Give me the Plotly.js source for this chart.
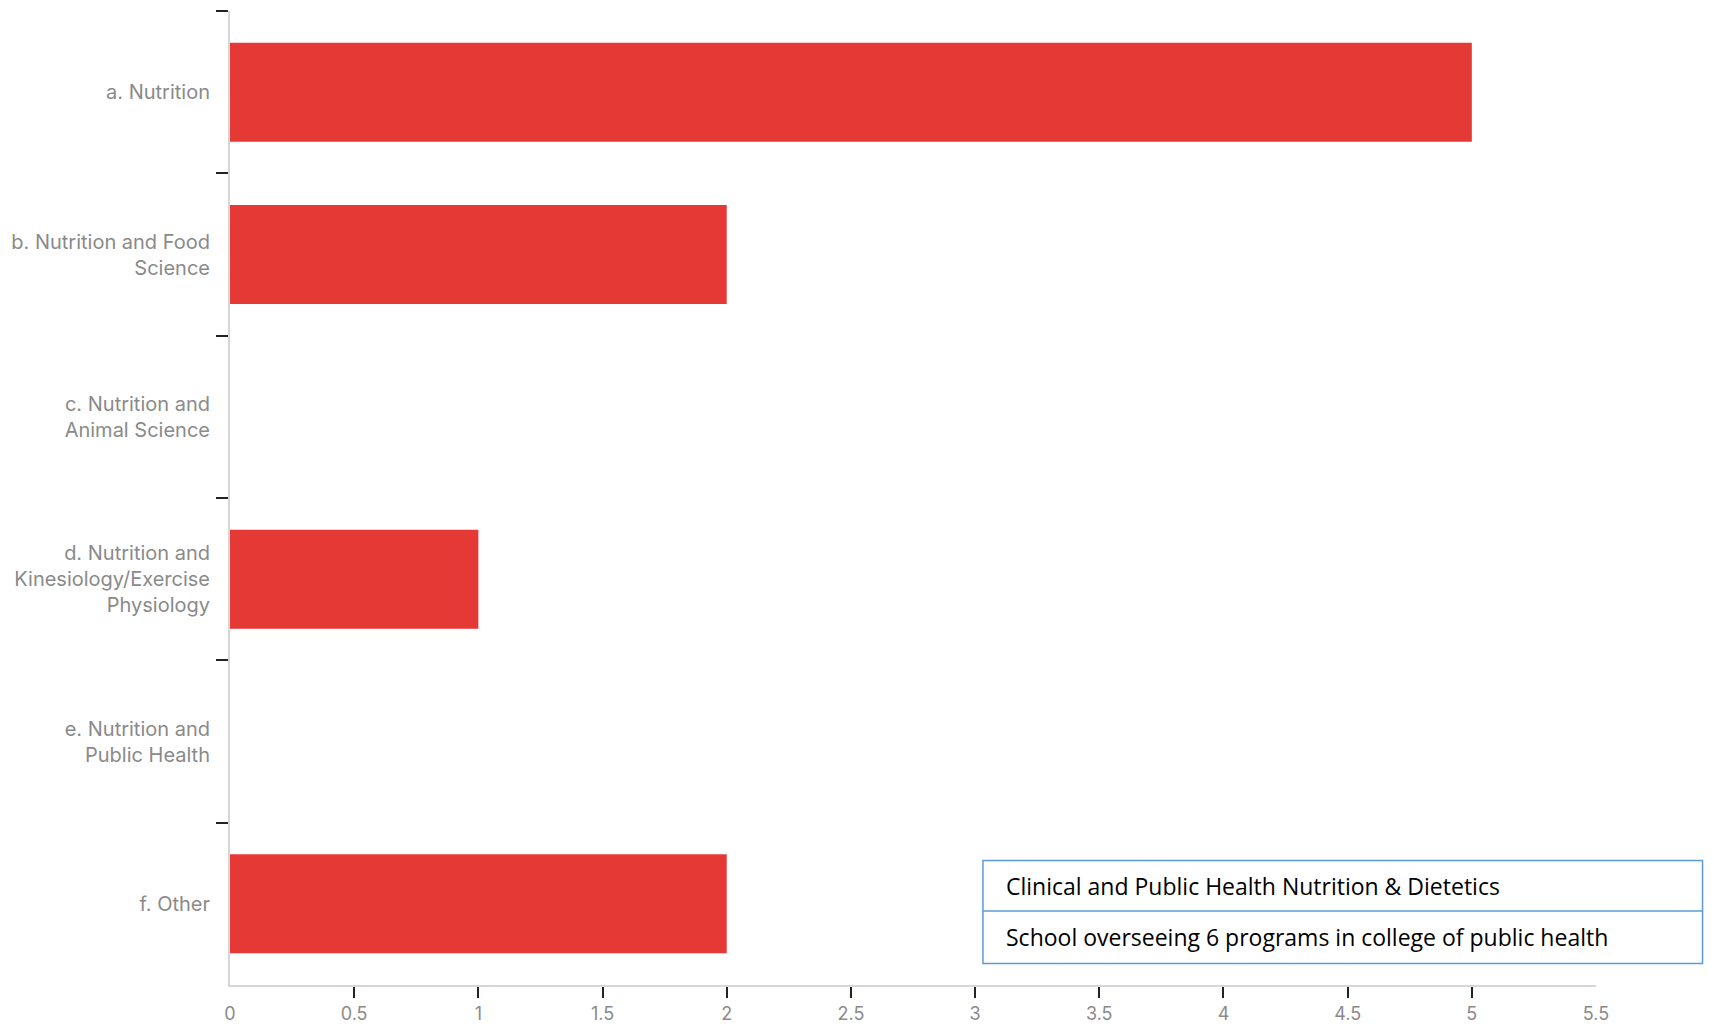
<!DOCTYPE html>
<html>
<head>
<meta charset="utf-8">
<script src="https://cdn.plot.ly/plotly-3.0.1.min.js"></script>
<style>html,body{margin:0;padding:0;background:#fff;}#chart{width:1714px;height:1026px;}</style>
</head>
<body>
<div id="chart"></div>
<script>
const categories = [
  'a. Nutrition',
  'b. Nutrition and Food<br>Science',
  'c. Nutrition and<br>Animal Science',
  'd. Nutrition and<br>Kinesiology/Exercise<br>Physiology',
  'e. Nutrition and<br>Public Health',
  'f. Other'
];
const counts = [5, 2, 0, 1, 0, 2];
const xTickVals = [0, 0.5, 1, 1.5, 2, 2.5, 3, 3.5, 4, 4.5, 5, 5.5];
const xTickText = ['0', '0.5', '1', '1.5', '2', '2.5', '3', '3.5', '4', '4.5', '5', '5.5'];
const xTickMarks = [0.5, 1, 1.5, 2, 2.5, 3, 3.5, 4, 4.5, 5];
const noteLines = [
  'Clinical and Public Health Nutrition &amp; Dietetics',
  'School overseeing 6 programs in college of public health'
];

const yTickFont = {family: 'Inter, Roboto, sans-serif', size: 20, color: '#8a8a8a'};
const xTickFont = {family: 'Inter, Roboto, sans-serif', size: 18, color: '#8a8a8a'};

const traces = [
  {
    type: 'bar',
    orientation: 'h',
    x: counts,
    y: categories,
    marker: {color: '#e53935', line: {width: 0}},
    hoverinfo: 'x+y',
    xaxis: 'x',
    yaxis: 'y'
  },
  {
    type: 'scatter',
    mode: 'markers',
    x: [],
    y: [],
    xaxis: 'x2',
    yaxis: 'y',
    showlegend: false,
    hoverinfo: 'skip'
  }
];

const boxX0 = 0.5512, boxX1 = 1.078;
const boxYTop = 0.1277, boxYMid = 0.076, boxYBot = 0.0222;
const noteFont = {family: 'Open Sans, sans-serif', size: 23, color: '#000000'};
const boxLine = {color: '#5b9bd5', width: 1.5};

const layout = {
  width: 1714,
  height: 1026,
  margin: {l: 230, r: 118, t: 11, b: 41},
  paper_bgcolor: '#ffffff',
  plot_bgcolor: '#ffffff',
  showlegend: false,
  bargap: 0.39,
  xaxis: {
    range: [0, 5.5],
    tickvals: xTickMarks,
    showticklabels: false,
    ticks: 'outside',
    ticklen: 11,
    tickwidth: 2,
    tickcolor: '#222222',
    showline: true,
    linecolor: '#d6d6d6',
    linewidth: 2,
    showgrid: false,
    zeroline: false,
    fixedrange: true
  },
  xaxis2: {
    overlaying: 'x',
    anchor: 'y',
    side: 'bottom',
    range: [0, 5.5],
    tickvals: xTickVals,
    ticktext: xTickText,
    ticks: '',
    ticklabelstandoff: 16,
    tickfont: xTickFont,
    showline: false,
    showgrid: false,
    zeroline: false,
    fixedrange: true
  },
  yaxis: {
    type: 'category',
    autorange: 'reversed',
    tickson: 'boundaries',
    ticks: 'outside',
    ticklen: 12,
    tickwidth: 2,
    tickcolor: '#222222',
    ticklabelstandoff: 14,
    tickfont: yTickFont,
    showline: true,
    linecolor: '#d6d6d6',
    linewidth: 2,
    showgrid: false,
    zeroline: false,
    fixedrange: true
  },
  shapes: [
    {type: 'rect', xref: 'paper', yref: 'paper', x0: boxX0, x1: boxX1, y0: boxYBot, y1: boxYTop,
     line: boxLine, fillcolor: 'rgba(0,0,0,0)'},
    {type: 'line', xref: 'paper', yref: 'paper', x0: boxX0, x1: boxX1, y0: boxYMid, y1: boxYMid,
     line: boxLine}
  ],
  annotations: [
    {xref: 'paper', yref: 'paper', x: 0.5666, y: (boxYTop + boxYMid) / 2, xanchor: 'left', yanchor: 'middle',
     text: noteLines[0], showarrow: false, font: noteFont},
    {xref: 'paper', yref: 'paper', x: 0.5666, y: (boxYMid + boxYBot) / 2, xanchor: 'left', yanchor: 'middle',
     text: noteLines[1], showarrow: false, font: noteFont}
  ]
};

Plotly.newPlot('chart', traces, layout, {displayModeBar: false, staticPlot: true});
</script>
</body>
</html>
